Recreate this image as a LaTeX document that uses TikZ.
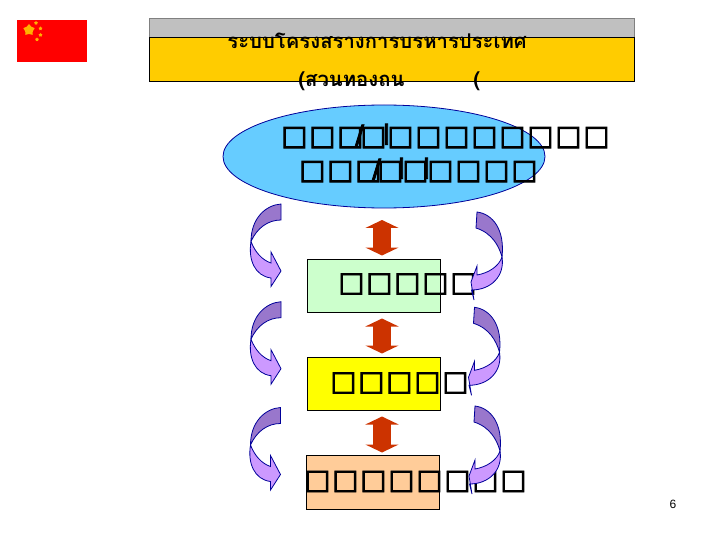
\documentclass[tikz,border=0pt]{standalone}
\usepackage{fontspec}
\usetikzlibrary{arrows.meta,shapes.geometric}
\newfontfamily\thaifont[Script=Thai]{Loma}
\newfontfamily\tofufont[FakeBold=3]{DejaVu Sans}
\setsansfont{Liberation Sans}
\definecolor{bandgray}{HTML}{C0C0C0}
\definecolor{bandgold}{HTML}{FFCC00}
\definecolor{skyfill}{HTML}{66CCFF}
\definecolor{mintfill}{HTML}{CCFFCC}
\definecolor{lemonfill}{HTML}{FFFF00}
\definecolor{peachfill}{HTML}{FFCC99}
\definecolor{rustarrow}{HTML}{CC3300}
\definecolor{darkpurple}{HTML}{9977CC}
\definecolor{lightpurple}{HTML}{CC99FF}
\definecolor{navyline}{HTML}{000099}
\newcommand{\tofu}{\makebox[28pt]{□}}
\newcommand{\thinmark}[1]{\makebox[0pt]{#1}}
\tikzset{
  levelbox/.style={draw, rectangle, inner sep=0pt, outer sep=0pt, minimum width=133pt, minimum height=53pt},
  tofutext/.style={anchor=west, inner sep=0pt, font=\tofufont\fontsize{27.5}{30}\selectfont},
  thaititle/.style={anchor=base west, inner sep=0pt, font=\thaifont\bfseries\fontsize{20.3}{24}\selectfont},
  updown/.style={rustarrow, line width=18pt, {Triangle[width=33pt,length=8pt]}-{Triangle[width=33pt,length=8pt]}},
  flagstar/.style={star, star points=5, fill=orange!60!yellow, inner sep=0pt, minimum size=#1},
  curveleft/.pic={
    \draw[navyline, fill=darkpurple] (0,0) .. controls (-15,1) and (-30,14) .. (-30,37.5) .. controls (-24,24) and (-13,16) .. (0,16) -- cycle;
    \draw[navyline, fill=lightpurple] (-30,37.5) .. controls (-33,56) and (-26,72) .. (-10,74) -- (-10,82.5) -- (0,67) -- (-10,48) -- (-10,59) .. controls (-19,56) and (-26,48) .. (-30,37.5) -- cycle;
  },
  curveright/.pic={
    \draw[navyline, fill=darkpurple] (0,0) .. controls (16,2) and (28,18) .. (25,45) .. controls (22,34) and (15,21) .. (-1,16) -- cycle;
    \draw[navyline, fill=lightpurple] (25,45) .. controls (22,54) and (12,61) .. (0,63) -- (0,54) -- (-6,70) -- (-3,88) -- (-5.5,78) .. controls (14,78) and (28,64) .. (25,45) -- cycle;
  }
}
\begin{document}
\begin{tikzpicture}[x=1pt, y=-1pt, line width=0.8pt]
  \useasboundingbox (0,0) rectangle (720,540);
  \node[fill=red, inner sep=0pt, minimum width=70pt, minimum height=42pt] (flag) at (52,41) {};
  \node[flagstar=12pt] (bigstar) at (29,30) {};
  \node[flagstar=4pt] (starA) at (36,23) {};
  \node[flagstar=4pt] (starB) at (40.5,28.5) {};
  \node[flagstar=4pt] (starC) at (40.5,35) {};
  \node[flagstar=4pt] (starD) at (37,39.5) {};
  \node[draw=gray, fill=bandgray, inner sep=0pt, minimum width=485pt, minimum height=19pt] (grayband) at (392,28) {};
  \node[draw, fill=bandgold, inner sep=0pt, minimum width=485pt, minimum height=44pt] (goldband) at (392,59.5) {};
  \node[thaititle] (titleA) at (227,49) {ระบบโครงสรางการบรหารประเทศ};
  \node[thaititle] (titleB) at (298,87) {(สวนทองถน};
  \node[thaititle] (titleC) at (473,87) {(};
  \node[draw=navyline, fill=skyfill, ellipse, inner sep=0pt, outer sep=0pt, minimum width=322pt, minimum height=103pt] (cabinet) at (384,156.5) {};
  \node[levelbox, fill=mintfill] (province) at (374,286) {};
  \node[levelbox, fill=lemonfill] (county) at (374,384) {};
  \node[levelbox, fill=peachfill, minimum height=54pt] (township) at (372.5,482.5) {};
  \node[tofutext] (cabinetA) at (280,136) {\tofu\tofu\tofu\hspace{-5pt}\thinmark{/}\tofu\hspace{-1pt}\thinmark{l}\tofu\tofu\tofu\tofu\tofu\tofu\tofu\tofu};
  \node[tofutext] (cabinetB) at (298,170) {\tofu\tofu\tofu\hspace{-6pt}\thinmark{/}\tofu\hspace{-3pt}\thinmark{l}\tofu\hspace{-3pt}\thinmark{l}\tofu\tofu\tofu\tofu};
  \node[tofutext] (provinceT) at (337,284) {\tofu\tofu\tofu\tofu\tofu};
  \node[tofutext] (countyT) at (329,383) {\tofu\tofu\tofu\tofu\tofu};
  \node[tofutext] (townshipT) at (303,481.5) {\tofu\tofu\tofu\tofu\tofu\tofu\tofu\tofu};
  \draw[updown, shorten <=12pt, shorten >=4pt] ([xshift=-2pt]cabinet.south) -- ([xshift=-2pt]cabinet.south |- province.north);
  \draw[updown, shorten <=6pt, shorten >=4pt] ([xshift=-2pt]cabinet.south |- province.south) -- ([xshift=-2pt]cabinet.south |- county.north);
  \draw[updown, shorten <=6pt, shorten >=3pt] ([xshift=-2pt]cabinet.south |- county.south) -- ([xshift=-2pt]cabinet.south |- township.north);
  \pic at (281,204) {curveleft};
  \pic at (281,301.7) {curveleft};
  \pic at (280.5,407.5) {curveleft};
  \pic at (477,212) {curveright};
  \pic at (474.5,307.3) {curveright};
  \pic at (475,406) {curveright};
  \node[font=\sffamily\fontsize{12}{14}\selectfont, inner sep=0pt] (pageno) at (673,504) {6};
\end{tikzpicture}
\end{document}
